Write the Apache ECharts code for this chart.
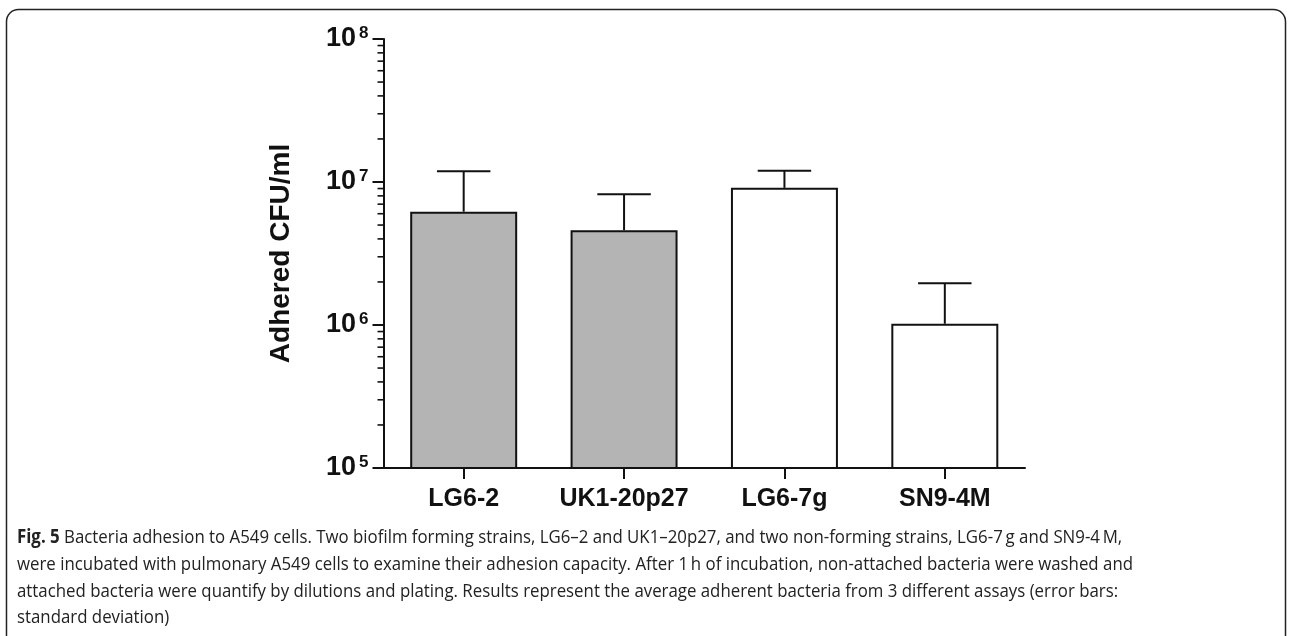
<!DOCTYPE html>
<html>
<head>
<meta charset="utf-8">
<script src="https://cdn.jsdelivr.net/npm/echarts@6/dist/echarts.min.js"></script>
<style>
html,body{margin:0;padding:0;background:#fff;}
#chart{width:1292px;height:636px;}
</style>
</head>
<body>
<div id="chart"></div>
<script>
// ---- data ----
const categories = ['LG6-2', 'UK1-20p27', 'LG6-7g', 'SN9-4M'];
const groups = ['forming', 'forming', 'non-forming', 'non-forming'];
const meanCFU = [6.2e6, 4.6e6, 9.1e6, 1.02e6];
const sdCFU = [5.7e6, 3.6e6, 2.9e6, 0.94e6];
const yMin = 1e5;
const yMax = 1e8;
const minorMultipliers = [2, 3, 4, 5, 6, 7, 8, 9];
const yTitle = 'Adhered CFU/ml';
const captionLines = [
  '{b|Fig. 5} Bacteria adhesion to A549 cells. Two biofilm forming strains, LG6\u20132 and UK1\u201320p27, and two non-forming strains, LG6-7\u2009g and SN9-4\u2009M,',
  'were incubated with pulmonary A549 cells to examine their adhesion capacity. After 1\u2009h of incubation, non-attached bacteria were washed and',
  'attached bacteria were quantify by dilutions and plating. Results represent the average adherent bacteria from 3 different assays (error bars:',
  'standard deviation)'
];

// ---- derived ----
const fillFor = { 'forming': '#b4b4b4', 'non-forming': '#ffffff' };
const barData = meanCFU.map((v, i) => ({ value: v, itemStyle: { color: fillFor[groups[i]] } }));
const errData = meanCFU.map((v, i) => [i, v, v + sdCFU[i]]);
const minorData = [];
for (let e = Math.log10(yMin); e < Math.log10(yMax); e++) {
  minorMultipliers.forEach(m => minorData.push([0, m * Math.pow(10, e)]));
}

// caption scaling to mimic condensed caption font
const capFont = '19px "Open Sans"';
const cv = document.createElement('canvas').getContext('2d');
cv.font = capFont;
const capScale = 1116 / cv.measureText(captionLines[1]).width;

const INK = '#111';
const chart = echarts.init(document.getElementById('chart'), null, { renderer: 'canvas' });

const captionGraphics = captionLines.map((t, i) => ({
  type: 'text',
  x: 17,
  y: 538 + i * 26.6,
  scaleX: capScale,
  style: {
    text: t,
    font: capFont,
    fontFamily: 'Open Sans',
    fontSize: 19,
    fill: '#222',
    verticalAlign: 'middle',
    align: 'left',
    rich: { b: { fontFamily: 'Open Sans', fontSize: 19, fontWeight: 'bold', fill: '#222' } }
  },
  silent: true
}));

chart.setOption({
  animation: false,
  backgroundColor: '#fff',
  textStyle: { fontFamily: 'Liberation Sans, Arial, sans-serif' },
  grid: { left: 383.5, top: 39, width: 641.5, height: 429, containLabel: false },
  xAxis: {
    type: 'category',
    data: categories,
    boundaryGap: true,
    axisLine: { show: true, lineStyle: { color: INK, width: 2 } },
    axisTick: { show: true, alignWithLabel: true, length: 11, lineStyle: { color: INK, width: 2 } },
    axisLabel: { interval: 0, hideOverlap: false, color: INK, fontSize: 25, fontWeight: 'bold', margin: 19, fontFamily: 'Liberation Sans' },
    splitLine: { show: false }
  },
  yAxis: {
    type: 'log',
    logBase: 10,
    min: yMin,
    max: yMax,
    splitNumber: 3,
    name: yTitle,
    nameLocation: 'middle',
    nameGap: 88,
    nameTextStyle: { color: INK, fontSize: 28, fontWeight: 'bold', fontFamily: 'Liberation Sans' },
    axisLine: { show: true, lineStyle: { color: INK, width: 2 } },
    axisTick: { show: true, length: 11, lineStyle: { color: INK, width: 2 } },
    splitLine: { show: false },
    axisLabel: {
      margin: 15,
      formatter: function (v) { return '{b|10}{s|' + Math.round(Math.log10(v)) + '}'; },
      rich: {
        b: { fontSize: 27, fontWeight: 'bold', color: INK, fontFamily: 'Liberation Sans', lineHeight: 28 },
        s: { fontSize: 17, fontWeight: 'bold', color: INK, fontFamily: 'Liberation Sans', verticalAlign: 'top', padding: [0, 0, 0, 3], lineHeight: 17 }
      }
    }
  },
  series: [
    {
      type: 'bar',
      data: barData,
      barWidth: '66.7%',
      itemStyle: { borderColor: INK, borderWidth: 2 },
      z: 2
    },
    {
      type: 'custom',
      data: errData,
      z: 3,
      silent: true,
      renderItem: function (params, api) {
        const x = api.value(0);
        const p0 = api.coord([x, api.value(1)]);
        const p1 = api.coord([x, api.value(2)]);
        const half = api.size([1, 0])[0] / 6;
        return {
          type: 'group',
          children: [
            { type: 'line', shape: { x1: p0[0], y1: p0[1], x2: p1[0], y2: p1[1] }, style: { stroke: INK, lineWidth: 2 } },
            { type: 'line', shape: { x1: p1[0] - half, y1: p1[1], x2: p1[0] + half, y2: p1[1] }, style: { stroke: INK, lineWidth: 2 } }
          ]
        };
      }
    },
    {
      type: 'custom',
      data: minorData,
      silent: true,
      z: 3,
      renderItem: function (params, api) {
        const p = api.coord([0, api.value(1)]);
        const x0 = params.coordSys.x;
        return { type: 'line', shape: { x1: x0 - 6, y1: p[1], x2: x0, y2: p[1] }, style: { stroke: INK, lineWidth: 1.6 } };
      }
    }
  ],
  graphic: [
    {
      type: 'rect',
      shape: { x: 6.5, y: 9.5, width: 1279, height: 720, r: 12 },
      style: { fill: 'none', stroke: '#222', lineWidth: 1.5 },
      silent: true,
      z: -1
    }
  ].concat(captionGraphics)
});
</script>
</body>
</html>
